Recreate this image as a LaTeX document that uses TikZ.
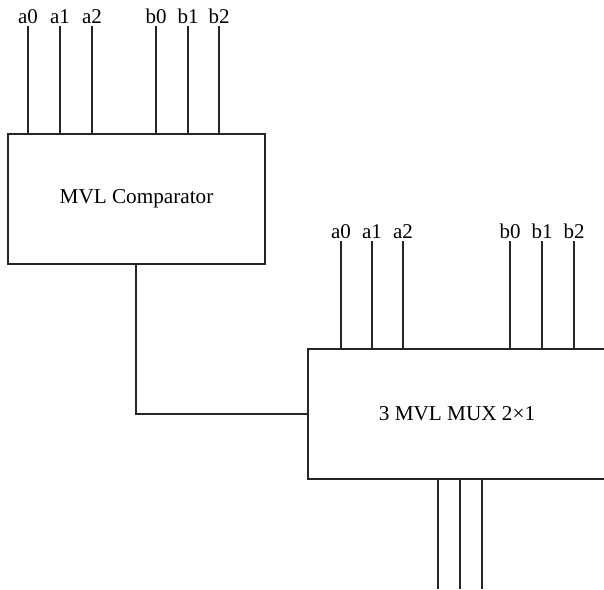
\documentclass[tikz,border=0pt]{standalone}
\usepackage{fontspec}
\setmainfont{Liberation Serif}
\begin{document}
\begin{tikzpicture}[x=1pt,y=-1pt,
  wire/.style={line width=1.4pt,draw=black!85},
  blk/.style={draw=black!85,line width=1.4pt,inner sep=0pt,font=\fontsize{21.2}{24}\selectfont},
  lbl/.style={anchor=base,inner sep=0pt,font=\fontsize{21}{24}\selectfont}]
\useasboundingbox (0,0) rectangle (604,589);
\clip (0,0) rectangle (604,589);
\node[blk,minimum width=257pt,minimum height=130pt] (comp) at (136.5,199) {MVL Comparator};
\node[blk,minimum width=298pt,minimum height=130pt] (mux) at (457,414) {3 MVL MUX 2×1};
% comparator inputs
\foreach \n/\x in {a0/28,a1/60,a2/92,b0/156,b1/188,b2/219}{
  \coordinate (c\n) at (\x,26);
  \node[lbl] (lc\n) at (\x,23.5) {\n};
  \draw[wire] (c\n) -- (c\n |- comp.north);
}
% mux inputs
\foreach \n/\x in {a0/341,a1/372,a2/403,b0/510,b1/542,b2/574}{
  \coordinate (m\n) at (\x,241);
  \node[lbl] (lm\n) at (\x,238.5) {\n};
  \draw[wire] (m\n) -- (m\n |- mux.north);
}
% comparator to mux
\draw[wire] ([xshift=-0.5pt]comp.south) |- (mux.west);
% mux outputs
\foreach \i/\x in {1/438,2/460,3/482}{
  \coordinate (o\i) at (\x,589);
  \draw[wire] (o\i |- mux.south) -- (o\i);
}
\end{tikzpicture}
\end{document}
